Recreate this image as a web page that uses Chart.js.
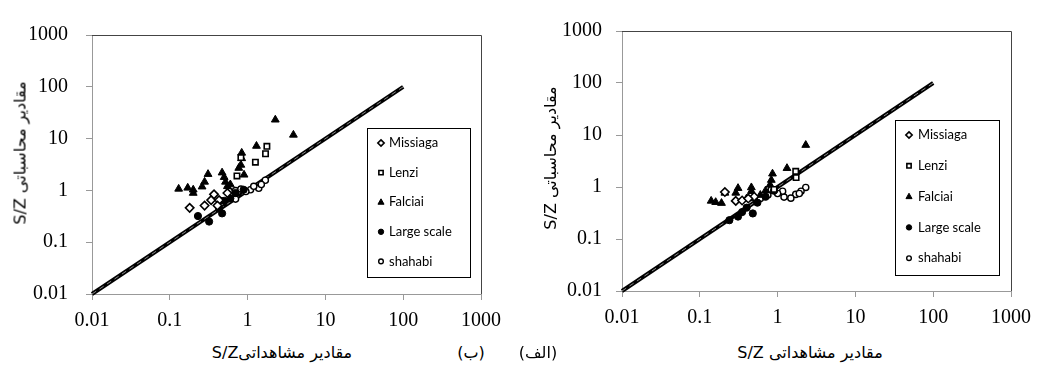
<!DOCTYPE html>
<html>
<head>
<meta charset="utf-8">
<script src="https://cdn.jsdelivr.net/npm/chart.js@4.4.0/dist/chart.umd.min.js"></script>
<style>
  html,body{margin:0;padding:0;background:#fff;}
  body{width:1041px;height:370px;position:relative;overflow:hidden;}
  .cv{position:absolute;}
  .t{position:absolute;font-family:"DejaVu Sans",sans-serif;color:#000;white-space:nowrap;direction:rtl;}
</style>
</head>
<body>
<div class="cv" style="left:30px;top:5px;width:480px;height:325px;"><canvas id="cB"></canvas></div>
<div class="cv" style="left:560px;top:5px;width:480px;height:325px;"><canvas id="cA"></canvas></div>

<div class="t" style="left:20px;top:153px;font-size:16px;transform:translate(-50%,-50%) rotate(-90deg);">مقادیر محاسباتی S/Z</div>
<div class="t" style="left:550px;top:158px;font-size:16px;transform:translate(-50%,-50%) rotate(-90deg);">مقادیر محاسباتی S/Z</div>
<div class="t" style="left:282px;top:352px;font-size:16px;transform:translate(-50%,-50%);">مقادیر مشاهداتیS/Z</div>
<div class="t" style="left:810px;top:352px;font-size:16px;transform:translate(-50%,-50%);">مقادیر مشاهداتی S/Z</div>
<div class="t" style="left:471px;top:352px;font-size:16px;transform:translate(-50%,-50%);">(ب)</div>
<div class="t" style="left:538px;top:352px;font-size:16px;transform:translate(-50%,-50%);">(الف)</div>

<script>
// ---------- data ----------
const seriesNames = ['Missiaga', 'Lenzi', 'Falciai', 'Large scale', 'shahabi'];
const tickValues = [0.01, 0.1, 1, 10, 100, 1000];
const tickLabels = ['0.01', '0.1', '1', '10', '100', '1000'];
const lineX = [0.01, 100];
const lineY = [0.01, 100];

// panel (ب) - left
const missiagaB = [[0.18,0.46],[0.28,0.51],[0.34,0.65],[0.43,0.65],[0.37,0.84],[0.55,0.89],[0.41,0.51]];
const lenziB = [[1.77,7.1],[1.70,5.1],[1.26,3.5],[0.82,4.3],[0.73,1.9]];
const falciaiB = [[2.27,23.1],[3.88,11.8],[1.30,7.2],[0.84,5.3],[0.84,4.15],[0.82,3.1],[0.77,2.7],[0.47,2.2],[0.50,1.8],[0.52,1.46],[0.31,2.06],[0.28,1.46],[0.26,1.18],[0.13,1.07],[0.17,1.12],[0.20,1.03],[0.20,0.89],[0.55,1.2],[0.9,2.0],[0.6,1.3]];
const largeB = [[0.23,0.32],[0.32,0.25],[0.47,0.36],[0.43,0.45],[0.50,0.63],[0.70,0.89],[0.89,1.03],[0.6,0.7]];
const shahabiB = [[0.58,0.96],[0.70,0.99],[0.82,1.06],[1.09,1.03],[1.39,1.10],[0.70,0.68],[0.45,0.63],[1.69,1.57],[1.2,1.2],[1.5,1.3],[0.95,0.95]];

// panel (الف) - right
const missiagaA = [[0.21,0.80],[0.29,0.54],[0.35,0.55],[0.50,0.65],[0.42,0.6]];
const lenziA = [[1.71,2.0],[1.73,1.52],[0.9,0.9]];
const falciaiA = [[2.30,6.4],[1.32,2.3],[0.86,1.8],[0.83,1.36],[0.80,1.10],[0.46,0.98],[0.46,0.83],[0.31,0.95],[0.29,0.77],[0.21,0.77],[0.14,0.54],[0.16,0.51],[0.19,0.49],[0.5,0.6],[0.6,0.7],[0.4,0.6],[0.7,0.85]];
const largeA = [[0.48,0.31],[0.31,0.27],[0.24,0.23],[0.4,0.4],[0.55,0.5],[0.7,0.65],[0.35,0.33],[0.9,0.85]];
const shahabiA = [[2.30,0.98],[2.0,0.83],[1.71,0.72],[1.48,0.61],[1.21,0.64],[1.16,0.83],[0.83,0.89],[1.0,0.75],[1.9,0.75],[0.6,0.6],[0.75,0.7]];

// ---------- styles ----------
const markerStyles = [
  {pointStyle:'rectRot', radius:4.2, fill:'#fff', border:'#000', bw:1.6},
  {pointStyle:'rect', radius:3.8, fill:'#fff', border:'#000', bw:1.6},
  {pointStyle:'triangle', radius:4.5, fill:'#000', border:'#000', bw:1},
  {pointStyle:'circle', radius:3.6, fill:'#000', border:'#000', bw:1},
  {pointStyle:'circle', radius:3.1, fill:'#fff', border:'#000', bw:1.4}
];
const TICK_FAMILY = '"Liberation Serif"';
Chart.defaults.font.family = TICK_FAMILY;
Chart.defaults.font.size = 20;
Chart.defaults.color = '#000';

function toPts(arr){ return arr.map(p => ({x:p[0], y:p[1]})); }

function drawMarker(ctx, st, x, y, r){
  ctx.save();
  ctx.fillStyle = st.fill; ctx.strokeStyle = st.border; ctx.lineWidth = st.bw;
  ctx.beginPath();
  if (st.pointStyle === 'rectRot'){
    ctx.moveTo(x, y-r); ctx.lineTo(x+r, y); ctx.lineTo(x, y+r); ctx.lineTo(x-r, y); ctx.closePath();
  } else if (st.pointStyle === 'rect'){
    const h = r*0.75; ctx.rect(x-h, y-h, 2*h, 2*h);
  } else if (st.pointStyle === 'triangle'){
    ctx.moveTo(x, y-r); ctx.lineTo(x+r*0.9, y+r*0.6); ctx.lineTo(x-r*0.9, y+r*0.6); ctx.closePath();
  } else {
    ctx.arc(x, y, r, 0, Math.PI*2);
  }
  ctx.fill(); ctx.stroke();
  ctx.restore();
}

const panelPlugin = {
  id: 'panelDecor',
  afterDraw(chart, args, opts){
    const ctx = chart.ctx, a = chart.chartArea;
    ctx.save();
    ctx.strokeStyle = '#444'; ctx.lineWidth = 1;
    ctx.beginPath();
    ctx.moveTo(a.left, a.top+0.5); ctx.lineTo(a.right+0.5, a.top+0.5); ctx.lineTo(a.right+0.5, a.bottom);
    ctx.stroke();
    const L = opts.legend;
    ctx.fillStyle = '#fff';
    ctx.fillRect(L.x, L.y, L.w, L.h);
    ctx.strokeStyle = '#000'; ctx.lineWidth = 1;
    ctx.strokeRect(L.x+0.5, L.y+0.5, L.w, L.h);
    ctx.font = '13px Lato, "Open Sans", sans-serif';
    ctx.textBaseline = 'middle'; ctx.textAlign = 'left';
    seriesNames.forEach((n, i) => {
      const yy = L.firstY + i*L.step;
      drawMarker(ctx, markerStyles[i], L.markerX, yy, markerStyles[i].radius*0.75);
      ctx.fillStyle = '#000';
      ctx.fillText(n, L.textX, yy);
    });
    ctx.restore();
  }
};

function makePanel(id, seriesData, geom){
  const datasets = seriesData.map((arr, i) => ({
    label: seriesNames[i],
    data: toPts(arr),
    pointStyle: markerStyles[i].pointStyle,
    pointRadius: markerStyles[i].radius,
    pointBackgroundColor: markerStyles[i].fill,
    pointBorderColor: markerStyles[i].border,
    pointBorderWidth: markerStyles[i].bw,
    showLine: false,
    order: 1
  }));
  datasets.push({
    label: 'line', type: 'line',
    data: lineX.map((x, i) => ({x, y: lineY[i]})),
    borderColor: '#000', borderWidth: 4, pointRadius: 0, order: 20, clip: 6
  });
  datasets.push({
    label: 'line2', type: 'line',
    data: lineX.map((x, i) => ({x, y: lineY[i]})),
    borderColor: '#8a8a8a', borderWidth: 1, borderDash: [5, 4], pointRadius: 0, order: 19, clip: 6
  });
  const tickFont = {family: TICK_FAMILY, size: 20};
  const fmt = v => { const k = tickValues.indexOf(v); return k >= 0 ? tickLabels[k] : ''; };
  return new Chart(document.getElementById(id), {
    type: 'scatter',
    data: {datasets},
    plugins: [panelPlugin],
    options: {
      responsive: true, maintainAspectRatio: false, animation: false,
      font: tickFont,
      layout: {padding: {top: geom.padTop, right: geom.padRight, left: 0, bottom: 0}},
      plugins: {legend: {display: false}, tooltip: {enabled: false}, panelDecor: {legend: geom.legend}},
      scales: {
        x: {
          type: 'logarithmic', min: 0.01, max: 1000,
          afterBuildTicks: s => { s.ticks = tickValues.map(v => ({value: v})); },
          afterFit: s => { s.height = geom.xH; },
          ticks: {callback: fmt, font: tickFont, color: '#000', maxRotation: 0, autoSkip: false, padding: 9},
          grid: {display: true, drawOnChartArea: false, drawTicks: true, tickLength: 6, color: '#999'},
          border: {display: true, color: '#999'}
        },
        y: {
          type: 'logarithmic', min: 0.01, max: 1000,
          afterBuildTicks: s => { s.ticks = tickValues.map(v => ({value: v})); },
          afterFit: s => { s.width = geom.yW; },
          ticks: {callback: fmt, font: tickFont, color: '#000', autoSkip: false, padding: geom.yPad},
          grid: {display: true, drawOnChartArea: false, drawTicks: true, tickLength: 6, color: '#999'},
          border: {display: true, color: '#999'}
        }
      }
    }
  });
}

makePanel('cB', [missiagaB, lenziB, falciaiB, largeB, shahabiB], {
  padTop: 14, padRight: 26, xH: 36, yW: 62, yPad: 18,
  legend: {x: 337, y: 123, w: 103, h: 149, firstY: 138, step: 29.6, markerX: 351, textX: 359}
});
makePanel('cA', [missiagaA, lenziA, falciaiA, largeA, shahabiA], {
  padTop: 14, padRight: 27, xH: 39, yW: 62, yPad: 14,
  legend: {x: 335, y: 115, w: 104, h: 155, firstY: 130, step: 30.8, markerX: 349, textX: 358}
});
</script>
</body>
</html>
